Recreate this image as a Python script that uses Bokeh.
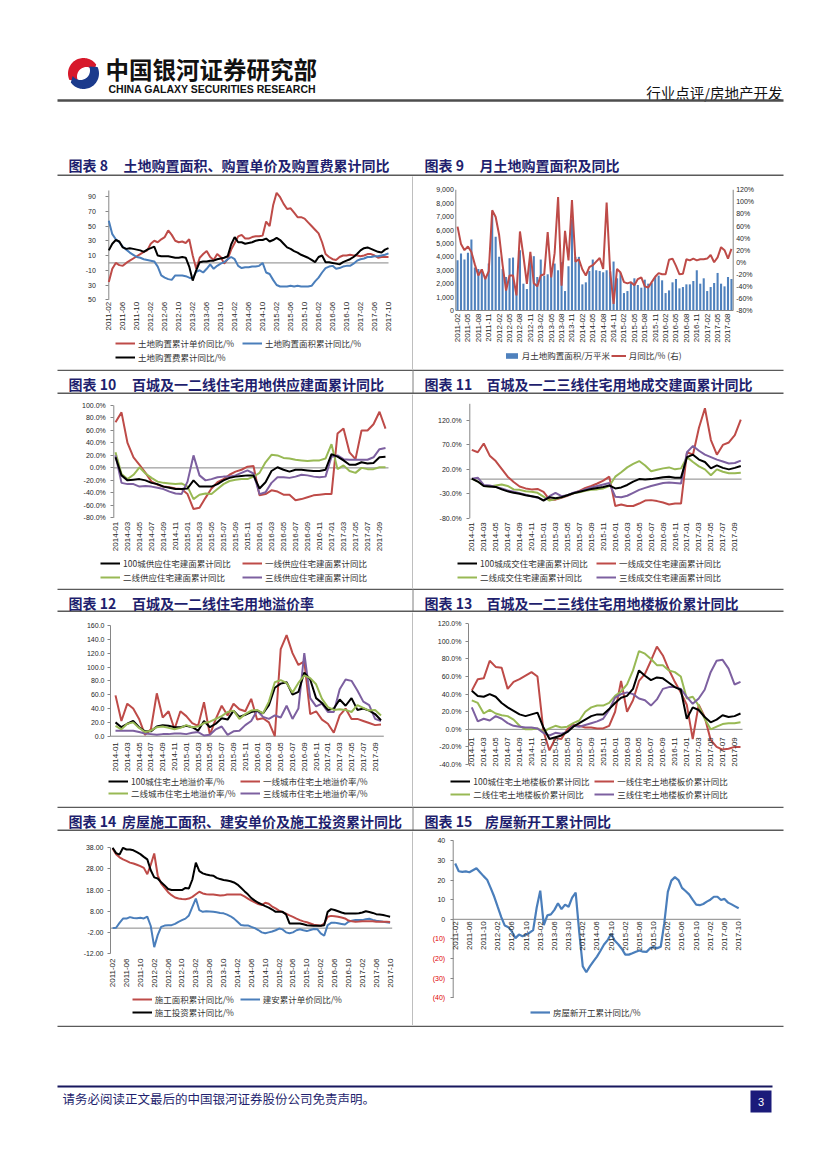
import math
from bokeh.plotting import figure
from bokeh.models import Range1d, LinearAxis, FixedTicker, Legend, LegendItem
from bokeh.layouts import column, row
from bokeh.embed import file_html
from bokeh.resources import INLINE
from bokeh.core.properties import value

# ---------------- tick labels ----------------
ticks_2011_4m = ["2011-02", "2011-06", "2011-10", "2012-02", "2012-06", "2012-10", "2013-02",
                 "2013-06", "2013-10", "2014-02", "2014-06", "2014-10", "2015-02", "2015-06",
                 "2015-10", "2016-02", "2016-06", "2016-10", "2017-02", "2017-06", "2017-10"]
ticks_2011_3m = ["2011-02", "2011-05", "2011-08", "2011-11", "2012-02", "2012-05", "2012-08",
                 "2012-11", "2013-02", "2013-05", "2013-08", "2013-11", "2014-02", "2014-05",
                 "2014-08", "2014-11", "2015-02", "2015-05", "2015-08", "2015-11", "2016-02",
                 "2016-05", "2016-08", "2016-11", "2017-02", "2017-05", "2017-08"]
ticks_2014_2m = ["2014-01", "2014-03", "2014-05", "2014-07", "2014-09", "2014-11", "2015-01",
                 "2015-03", "2015-05", "2015-07", "2015-09", "2015-11", "2016-01", "2016-03",
                 "2016-05", "2016-07", "2016-09", "2016-11", "2017-01", "2017-03", "2017-05",
                 "2017-07", "2017-09"]

# ---------------- chart 8 ----------------
land_unit_price_yoy = [-26, -8, 0, -3, -4, 0, 3, 6, 9, 12, 15, 17, 26, 30, 28, 32, 35, 44, 38, 30,
                       28, 29, 27, 32, 10, -8, 7, 12, 16, 8, 4, 12, 8, -1, 5, 18, 27, 36, 38, 33,
                       33, 35, 36, 36, 37, 56, 50, 78, 95, 89, 80, 73, 74, 68, 62, 62, 60, 55, 50, 45,
                       40, 28, 12, 8, 5, 4, 8, 10, 10, 11, 10, 10, 9, 10, 12, 12, 10, 7, 8, 8, 8]
land_area_yoy = [57, 39, 32, 28, 22, 18, 14, 11, 8, 7, 5, 4, 3, 2, -5, -17, -20, -22, -23, -17,
                 -17, -17, -18, -20, -21, -12, -10, -13, -8, -2, -8, -4, -1, 1, 5, 8, 5, -4, -7, -6,
                 -6, -5, -5, -4, 0, -13, -15, -23, -30, -32, -32, -32, -31, -32, -31, -32, -32, -32, -31, -25,
                 -20, -13, -7, -5, -4, -8, -7, -5, -4, -4, -1, 3, 5, 6, 8, 8, 9, 9, 10, 11, 13]
land_cost_yoy = [17, 26, 31, 29, 21, 19, 20, 19, 18, 17, 15, 18, 20, 22, 10, 9, 9, 9, 8, 7,
                 7, 8, 7, -5, -24, -10, 1, 2, 2, 3, 3, 5, 6, 7, 9, 25, 35, 28, 28, 26,
                 27, 28, 30, 31, 31, 33, 29, 31, 34, 31, 26, 21, 19, 16, 14, 11, 9, 7, 4, 1,
                 8, 10, 1, 1, 0, -1, -2, 1, 3, 5, 8, 12, 17, 20, 21, 19, 17, 15, 14, 18, 20]

# ---------------- chart 9 ----------------
land_area_month = [3750, 4250, 3800, 4300, 5300, 3200, 3100, 3100, 2500, 3500,
                   7300, 5500, 4000, 3100, 2500, 3900, 3950, 1800, 4500, 2000,
                   1600, 4100, 4050, 2500, 3800, 2600, 2700, 3100, 3500, 3000,
                   3600, 1450, 3300, 6800, 4000, 4000, 1950, 2100, 2950, 3800,
                   3000, 2950, 2850, 3000, 2900, 3650, 2400, 2800, 1300, 1450,
                   2100, 2400, 1900, 1700, 2300, 2000, 2050, 2500, 2600, 2250,
                   1300, 1500, 2100, 2350, 1650, 1750, 1950, 1950, 2200, 3000,
                   2000, 2400, 1450, 1750, 2050, 2800, 2000, 1800, 2500, 2350]
land_area_month_yoy = [59, 30, 20, 26, 17, -4, -22, -12, -28, -15,
                       86, 75, 45, -5, -47, -22, -22, -55, 51, 10,
                       -36, 17, -35, -40, -22, -20, 50, -25, 15, 108,
                       -39, 52, 3, 103, 1, 5, -12, -22, -8, -5,
                       1, 7, -11, 99, -14, -69, -11, -17, -33, -35,
                       -33, -38, -28, -25, -40, -42, -33, -24, -18, -20,
                       -20, 4, 6, -6, -20, -19, 5, 3, 6, 3,
                       5, 5, 6, 12, 0, 8, 25, 20, 6, 22]

# ---------------- chart 10 ----------------
supply_100 = [17, -12, -20, -19, -18, -20, -24, -26, -30, -32, -34, -34, -33, -20, -30, -30, -30, -26,
              -20, -16, -14, -13, -12, -12, -33, -23, -5, 1, -3, -6, -3, -3, -4, -5, -5, -3, 22, 18,
              12, 5, 5, 9, 7, 8, 17, 18]
supply_t1 = [73, 89, 40, 17, 5, -8, -22, -27, -30, -31, -33, -34, -42, -66, -64, -48, -33, -23,
             -18, -11, -6, -3, 2, 3, -44, -42, -36, -38, -43, -43, -52, -50, -47, -44, -43, -42, -42, 55,
             63, 25, 14, 60, 60, 70, 90, 63]
supply_t2 = [25, -10, -18, -11, 1, -9, -16, -22, -24, -25, -26, -25, -30, -50, -43, -41, -42, -34,
             -26, -21, -19, -18, -18, -14, -8, 9, 21, 20, 16, 15, 13, 12, 11, 12, 12, 15, 38, -2,
             4, -5, -8, 0, -2, -2, 1, 1]
supply_t3 = [20, -24, -26, -26, -30, -29, -30, -32, -34, -38, -41, -42, -22, 20, -12, -20, -18, -15,
             -14, -14, -12, -8, -4, -9, -42, -39, -24, -15, -15, -16, -14, -11, -12, -14, -15, -14, 18, 20,
             14, 13, 13, 13, 13, 17, 30, 32]

# ---------------- chart 11 ----------------
deal_100 = [1, -5, -14, -15, -16, -21, -25, -28, -30, -33, -35, -37, -44, -37, -39, -37, -33, -29,
            -26, -23, -20, -18, -16, -13, -19, -17, -12, -5, 0, -1, 0, 2, 4, 5, 3, 3, 45, 50,
            40, 35, 22, 28, 23, 20, 23, 27]
deal_t1 = [60, 55, 73, 48, 37, 21, 5, -6, -15, -19, -21, -20, -26, -42, -42, -38, -34, -29,
           -24, -18, -14, -9, -3, 5, -55, -52, -55, -55, -50, -44, -43, -45, -48, -52, -50, -50, 55, 50,
           105, 145, 80, 50, 70, 75, 90, 122]
deal_t2 = [1, -5, -14, -15, -13, -11, -14, -21, -22, -25, -26, -28, -36, -44, -41, -37, -33, -29,
           -27, -24, -22, -21, -19, -14, 5, 14, 24, 31, 37, 28, 16, 19, 22, 24, 20, 22, 45, 35,
           26, 20, 8, 20, 15, 12, 12, 13]
deal_t3 = [1, 3, -12, -13, -16, -19, -23, -26, -29, -32, -35, -38, -43, -35, -28, -35, -33, -28,
           -25, -21, -17, -14, -11, -8, -36, -37, -34, -28, -22, -18, -14, -11, -8, -7, -8, -9, 55, 68,
           58, 50, 45, 40, 36, 32, 33, 38]

# ---------------- chart 12 ----------------
premium_100 = [20, 13, 18, 22, 13, 7, 7, 14, 16, 15, 13, 13, 15, 13, 8, 22, 13, 18, 26, 24,
               37, 28, 31, 35, 37, 33, 45, 70, 76, 78, 60, 64, 92, 82, 55, 48, 38, 40, 53, 44,
               55, 38, 40, 37, 32, 23]
premium_t1 = [59, 22, 47, 40, 25, 2, 10, 62, 27, 36, 10, 36, 29, 19, 15, 49, 2, 25, 44, 30,
              47, 39, 36, 54, 24, 26, 20, 0, 126, 146, 120, 103, 108, 32, 36, 24, 18, 5, 30, 40,
              25, 25, 22, 19, 16, 17]
premium_t2 = [15, 10, 18, 20, 12, 6, 8, 13, 14, 12, 10, 12, 16, 13, 14, 19, 21, 25, 29, 35,
              37, 25, 32, 37, 38, 33, 50, 78, 81, 77, 63, 77, 88, 84, 75, 54, 42, 38, 39, 38,
              35, 45, 41, 37, 38, 30]
premium_t3 = [8, 8, 8, 8, 6, 4, 3, 2, 3, 3, 4, 4, 3, 5, 6, 1, 2, 10, 14, 2,
              7, 8, 16, 22, 37, 28, 25, 30, 27, 44, 25, 40, 120, 55, 43, 47, 35, 35, 68, 82,
              80, 66, 50, 45, 25, 22]

# ---------------- chart 13 ----------------
floor_100 = [44, 38, 37, 40, 37, 30, 25, 21, 17, 15, 17, 19, 2, -11, -9, -7, -3, 3, 7, 11,
             15, 17, 17, 23, 30, 36, 38, 46, 67, 61, 56, 59, 58, 53, 48, 45, 12, 25, 22, 14,
             8, 11, 16, 14, 15, 18]
floor_t1 = [44, 57, 58, 78, 71, 70, 46, 54, 57, 61, 65, 60, -2, -24, -10, -11, 0, 5, 4, 2,
            2, 1, 1, 4, 20, 55, 20, 33, 55, 63, 78, 94, 84, 68, 54, 42, 28, -11, 28, 14,
            -12, -20, -23, -22, -20, -20]
floor_t2 = [33, 30, 18, 22, 18, 16, 15, 11, 4, 0, 0, 1, -3, 1, 4, 2, 3, 7, 10, 20,
            25, 27, 27, 30, 38, 43, 51, 67, 89, 86, 80, 73, 73, 67, 65, 60, 35, 37, 27, 12,
            0, 3, 6, 7, 7, 8]
floor_t3 = [25, 9, 12, 10, 15, 12, 7, 4, 3, 2, 2, 1, -4, -7, -4, -5, -3, 4, 3, 5,
            7, 9, 12, 22, 36, 40, 42, 40, 35, 33, 27, 34, 46, 48, 48, 46, 37, 29, 35, 45,
            65, 78, 79, 69, 51, 54]

# ---------------- chart 14 ----------------
constr_area_yoy = [37.7, 35, 33.5, 32.5, 31.8, 31, 30.6, 30, 29.3, 28.5,
                   25.5, 30, 35.3, 25, 21, 19, 17, 15.6, 14.5, 14,
                   13.8, 13.7, 14, 14.8, 16, 17.2, 16.4, 16, 15.9, 15.9,
                   15.7, 15.4, 15.5, 15.9, 15.9, 15.9, 15.9, 15.9, 15, 14,
                   13, 12.2, 11.4, 10.9, 12, 11.5, 10.2, 9.3, 8.3, 7.6,
                   6.8, 6, 5.3, 4.5, 3.8, 3.2, 2.8, 2.2, 1.6, 1.4,
                   1.1, 2.2, 5.4, 5.8, 5.6, 5.4, 5, 4.6, 3.6, 3.2,
                   3, 3.1, 3.3, 3.3, 3.3, 3.2, 3, 3, 3, 3, 2.9]
build_cost_yoy = [0, 0.2, 2.5, 4.5, 4.5, 5.2, 4.8, 4.7, 4.9, 4.6,
                  5.4, 1, -9, -3.3, 0.6, 1.2, 1.4, 1.4, 2, 3,
                  3.8, 4.5, 6, 10, 14, 8.5, 7.7, 8, 7.9, 7.7,
                  7.5, 7.2, 7, 6.4, 5.6, 4.5, 3, 1.5, 1.2, 1.3,
                  0.6, 0, -0.9, -2, -2.4, -2, -1.6, -1, -0.2, -0.6,
                  -2, -2.4, -2, -1, -0.5, -1, -1.4, -0.9, -0.4, -0.5,
                  -2.5, -3.6, 1.4, 2.5, 2.6, 2.3, 2, 1.7, 3, 3.5,
                  3.8, 3.8, 3.8, 4.2, 4.4, 3.9, 3.5, 3.3, 3, 2.8, 2.5]
constr_invest_yoy = [38, 35.5, 34.8, 38, 37.2, 37.2, 36.8, 35.9, 35, 33.7,
                     32.5, 27.4, 24, 23.5, 21.7, 20.2, 18.5, 18, 18, 18,
                     18, 19, 18.8, 23, 31, 27, 25.9, 25.4, 25, 24.8,
                     23.8, 23.2, 22.8, 22.5, 22.2, 21.6, 20.6, 19.1, 17.5, 16,
                     14.2, 13, 12, 11.2, 10.4, 9.7, 8.8, 7.7, 7.7, 7.7,
                     6.5, 2.2, 2.2, 2.2, 2.2, 1.8, 1.4, 1.3, 1.1, 1.1,
                     1.1, 1.4, 7.7, 9, 8.6, 8, 7.4, 6.9, 6.9, 6.9,
                     6.9, 7, 7.4, 8, 7.6, 7.2, 6.6, 6.4, 6.2, 5.8, 5.4]

# ---------------- chart 15 ----------------
new_start_yoy = [28.4, 24.5, 24.2, 24.4, 24, 25, 26, 24, 22, 20.2,
                 16, 11.6, 6.3, 1.1, -3.2, -4, -6.3, -9.6, -7.8, -8.6,
                 -7.7, -6.8, -5.5, 6, 14.6, -3, 2, 2.5, 4.8, 8.2,
                 5.2, 7.5, 6.4, 11, 13.6, -6.5, -24, -27, -24, -21.4,
                 -19, -16, -12.8, -10.7, -7.4, -10.8, -12.7, -15, -18, -18,
                 -17.3, -16.5, -15.9, -16.5, -16.6, -14.7, -14.2, -14.7, -14, -2,
                 14, 19.7, 21.5, 20, 16, 14.4, 12.7, 10, 7.5, 7.2,
                 7.8, 9, 10, 11.5, 11.5, 9.8, 10.4, 8.5, 7.6, 6.6, 5.6]

# ---------------- style ----------------
RED = "#BE4B48"
BLUE = "#4A7EBB"
GREEN = "#98B954"
PURPLE = "#7D60A0"
BLACK = "#000000"
BAR = "#4F81BD"
AXIS = "#868686"
NAVY = "#1F1F6E"
RULE = "#5A5A5A"
TICK_FONT = "Liberation Sans"
CJK = "Noto Sans CJK SC"
PAGE_W = 819


def canvas(x0, y0, w, h):
    p = figure(width=w, height=h, x_range=Range1d(x0, x0 + w), y_range=Range1d(y0 + h, y0),
               output_backend="svg", toolbar_location=None, tools="", min_border=0,
               x_axis_location=None, y_axis_location=None, outline_line_color=None)
    p.grid.visible = False
    return p


def vline(h):
    p = figure(width=1, height=h, x_range=Range1d(0, 1), y_range=Range1d(0, 1),
               output_backend="svg", toolbar_location=None, tools="", min_border=0,
               x_axis_location=None, y_axis_location=None, outline_line_color=None,
               background_fill_color="#7F7F7F", border_fill_color="#7F7F7F")
    p.grid.visible = False
    return p


class Chart:
    """A figure whose frame is the whole panel; ranges are set from two pixel anchors per axis."""

    def __init__(self, box, xa, ya):
        x0, y0, x1, y1 = box
        self.box = box
        ia, pa, ib, pb = xa
        self.kx = (ib - ia) / (pb - pa)
        self.ia, self.pa = ia, pa
        xr = (ia - (pa - x0) * self.kx, ia + (x1 - pa) * self.kx)
        yr = self.yr_from(ya)
        self.ya = ya
        self.p = figure(width=x1 - x0, height=y1 - y0, x_range=Range1d(*xr), y_range=Range1d(*yr),
                        output_backend="svg", toolbar_location=None, tools="", min_border=0,
                        outline_line_color=None)
        self.p.xgrid.visible = False
        self.p.ygrid.visible = False

    def yr_from(self, ya):
        x0, y0, x1, y1 = self.box
        vh, ph, vl, pl = ya
        k = (vh - vl) / (pl - ph)
        return (vl - (y1 - pl) * k, vh + (ph - y0) * k)

    def X(self, px):
        return self.ia + (px - self.pa) * self.kx

    def Y(self, py, ya=None):
        vh, ph, vl, pl = ya or self.ya
        k = (vh - vl) / (pl - ph)
        return vl - (py - pl) * k


def style_y(ax, ticks, labels, standoff, loc, tick_out=3, color="#262626", tick=True):
    ax.ticker = FixedTicker(ticks=ticks)
    ax.major_label_overrides = dict(zip(ticks, labels))
    ax.fixed_location = loc
    ax.axis_line_color = None
    ax.major_tick_line_color = AXIS if tick else None
    ax.major_tick_out = tick_out
    ax.major_tick_in = 0
    ax.minor_tick_line_color = None
    ax.major_label_standoff = standoff
    ax.major_label_text_font = TICK_FONT
    ax.major_label_text_font_size = "7px"
    ax.major_label_text_color = color


def style_x(ax, ticks, labels, standoff, loc):
    ax.ticker = FixedTicker(ticks=ticks)
    ax.major_label_overrides = dict(zip(ticks, labels))
    ax.fixed_location = loc
    ax.major_label_orientation = math.pi / 2
    ax.axis_line_color = None
    ax.major_tick_line_color = None
    ax.major_tick_out = 0
    ax.major_tick_in = 0
    ax.minor_tick_line_color = None
    ax.major_label_standoff = standoff
    ax.major_label_text_font = TICK_FONT
    ax.major_label_text_font_size = "8px"
    ax.major_label_text_color = "#262626"


def add_lines(p, series, colors, width=2.0):
    rs = []
    for ys, c in zip(series, colors):
        rs.append(p.line(list(range(len(ys))), ys, line_color=c, line_width=width))
    return rs


def add_legend(p, renderers, labels, loc, label_width, item_h=12, spacing=0, gw=20, gh=None, ncols=2):
    items = [LegendItem(label=value(lab), renderers=[r]) for lab, r in zip(labels, renderers)]
    lg = Legend(items=items, location=loc, orientation="horizontal", ncols=ncols,
                label_width=int(round(label_width)), glyph_width=gw,
                glyph_height=gh if gh is not None else item_h, label_height=item_h,
                label_standoff=3, spacing=spacing, padding=0, margin=0,
                border_line_color=None, background_fill_alpha=0,
                label_text_font=CJK, label_text_font_size="8.5px", label_text_color="#333333")
    p.add_layout(lg)


def hline(p, y, x0, x1, **kw):
    p.segment(x0=[x0], y0=[y], x1=[x1], y1=[y], line_color=AXIS, line_width=1, **kw)


def vseg(p, x, y0, y1, **kw):
    p.segment(x0=[x], y0=[y0], x1=[x], y1=[y1], line_color=AXIS, line_width=1, **kw)


def pct(v, d=1):
    return f"{v:.{d}f}%"


def legend_loc(c, x_px, top_px, h):
    x0, y0, x1, y1 = c.box
    return (x_px - x0, y1 - top_px - h)


# ---------------- header ----------------
header = canvas(0, 0, PAGE_W, 150)


def arc(cx, cy, r, t0, t1, n=40):
    pts = []
    for k in range(n + 1):
        t = math.radians(t0 + (t1 - t0) * k / n)
        pts.append((cx + r * math.cos(t), cy - r * math.sin(t)))
    return pts


red_logo = arc(83, 73, 15.5, 35, 205) + arc(86, 76, 9.5, 205, 35)
blue_logo = arc(83, 73, 15.5, 215, 385) + arc(80, 70, 9.5, 385, 215)
header.patch([q[0] for q in red_logo], [q[1] for q in red_logo], fill_color="#D7192B", line_color=None)
header.patch([q[0] for q in blue_logo], [q[1] for q in blue_logo], fill_color="#1B3A8C", line_color=None)
header.text(x=[105], y=[68.5], text=["中国银河证券研究部"], text_font=value(CJK), text_font_style="bold",
            text_font_size=value("23.5px"), text_baseline="middle", text_color="#111111")
header.text(x=[108], y=[88], text=["CHINA GALAXY SECURITIES RESEARCH"], text_font=value(TICK_FONT),
            text_font_style="bold", text_font_size=value("10.5px"), text_baseline="middle",
            text_color="#111111")
header.text(x=[782], y=[92], text=["行业点评/房地产开发"], text_font=value(CJK),
            text_font_size=value("14.5px"), text_baseline="middle", text_align="right",
            text_color="#111111")
header.segment(x0=[57], y0=[100], x1=[783], y1=[100], line_color="#4D4D4D", line_width=2.5)


# ---------------- title strips ----------------
def strip(y0, h, cy, titles, first=False):
    p = canvas(0, y0, PAGE_W, h)
    if not first:
        p.segment(x0=[57], y0=[y0 + 0.75], x1=[783], y1=[y0 + 0.75], line_color=RULE, line_width=1.5)
        p.segment(x0=[412.5], y0=[y0], x1=[412.5], y1=[y0 + h], line_color="#7F7F7F", line_width=1)
    p.segment(x0=[57], y0=[y0 + h - 1], x1=[783], y1=[y0 + h - 1], line_color=RULE, line_width=2)
    for (num, xn, txt, xt) in titles:
        p.text(x=[xn, xt], y=[cy, cy], text=[num, txt], text_font=value(CJK), text_font_style="bold",
               text_font_size=value("14px"), text_baseline="middle", text_color=NAVY)
    return p


strip1 = strip(150, 26, 164, [("图表 8", 68, "土地购置面积、购置单价及购置费累计同比", 123),
                               ("图表 9", 424, "月土地购置面积及同比", 479)], first=True)
strip2 = strip(369, 25, 383, [("图表 10", 68, "百城及一二线住宅用地供应建面累计同比", 131.5),
                               ("图表 11", 424, "百城及一二三线住宅用地成交建面累计同比", 486)])
strip3 = strip(588, 24, 602.5, [("图表 12", 68, "百城及一二线住宅用地溢价率", 131.5),
                                 ("图表 13", 424, "百城及一二三线住宅用地楼板价累计同比", 486)])
strip4 = strip(806, 25, 820.5, [("图表 14", 68, "房屋施工面积、建安单价及施工投资累计同比", 121.5),
                                 ("图表 15", 424, "房屋新开工累计同比", 484.5)])

# ---------------- chart 8 ----------------
k8 = Chart((0, 176, 412, 369), (0, 108.3, 80, 388), (90, 196, -50, 299.3))
c8 = k8.p
hline(c8, 0, 0, 80)
vseg(c8, 0, -50, k8.Y(190))
r8 = add_lines(c8, [land_unit_price_yoy, land_area_yoy, land_cost_yoy], [RED, BLUE, BLACK])
style_y(c8.yaxis[0], [-50, -30, -10, 10, 30, 50, 70, 90], ["50", "30", "-10", "10", "30", "50", "70", "90"], 10, 0)
style_x(c8.xaxis[0], [4 * k for k in range(len(ticks_2011_4m))], ticks_2011_4m, 2, -50)
add_legend(c8, r8, ["土地购置累计单价同比/%", "土地购置面积累计同比/%", "土地购置费累计同比/%"],
           legend_loc(k8, 115, 337, 26), 102, item_h=12, spacing=2)

# ---------------- chart 9 ----------------
ya9 = (9000, 189.3, 0, 310)
ya9p = (120, 189.3, -80, 310)
k9 = Chart((413, 176, 783, 369), (-0.5, 455.3, 79.5, 732.7), ya9)
c9 = k9.p
c9.extra_y_ranges = {"pct": Range1d(*k9.yr_from(ya9p))}
b9 = c9.vbar(x=list(range(len(land_area_month))), top=land_area_month, width=0.6,
             fill_color=BAR, line_color=None)
l9 = c9.line(list(range(len(land_area_month_yoy))), land_area_month_yoy, y_range_name="pct",
             line_color=RED, line_width=2)
vseg(c9, -0.5, 0, 9000)
vseg(c9, 79.5, -80, 120, y_range_name="pct")
hline(c9, 0, -0.5, 79.5)
style_y(c9.yaxis[0], [k * 1000 for k in range(10)], [f"{k * 1000:,}" for k in range(10)], 2, -0.5, tick_out=0)
ax9r = LinearAxis(y_range_name="pct")
style_y(ax9r, list(range(-80, 121, 20)), [f"{v}%" for v in range(-80, 121, 20)], 3, 79.5, tick_out=0)
c9.add_layout(ax9r, "right")
style_x(c9.xaxis[0], [3 * k for k in range(len(ticks_2011_3m))], ticks_2011_3m, 3, 0)
add_legend(c9, [b9, l9], ["月土地购置面积/万平米", "月同比/% (右)"], legend_loc(k9, 503.7, 349, 12), 89,
           item_h=12, spacing=0, gw=15, gh=7)

# ---------------- chart 10 ----------------
k10 = Chart((0, 394, 412, 588), (0, 115, 45, 385), (100, 405, -80, 517.3))
c10 = k10.p
ax10, end10 = k10.X(113.3), k10.X(388)
hline(c10, 0, ax10, end10)
vseg(c10, ax10, -80, 100)
r10 = add_lines(c10, [supply_t1, supply_t2, supply_t3, supply_100], [RED, GREEN, PURPLE, BLACK])
style_y(c10.yaxis[0], list(range(-80, 101, 20)), [pct(v) for v in range(-80, 101, 20)], 5, ax10)
style_x(c10.xaxis[0], [2 * k for k in range(len(ticks_2014_2m))], ticks_2014_2m, 4, -80)
add_legend(c10, [r10[3], r10[0], r10[1], r10[2]],
           ["100城供应住宅建面累计同比", "一线供应住宅建面累计同比", "二线供应住宅建面累计同比", "三线供应住宅建面累计同比"],
           legend_loc(k10, 100, 556.7, 26), 117, item_h=12, spacing=2)

# ---------------- chart 11 ----------------
k11 = Chart((413, 394, 783, 588), (0, 471.3, 45, 740.3), (120, 420, -80, 517.7))
c11 = k11.p
ax11, end11 = k11.X(469.3), k11.X(741)
hline(c11, 0, ax11, end11)
vseg(c11, ax11, -80, k11.Y(403.3))
r11 = add_lines(c11, [deal_t1, deal_t2, deal_t3, deal_100], [RED, GREEN, PURPLE, BLACK])
style_y(c11.yaxis[0], [-80, -30, 20, 70, 120], [pct(v) for v in [-80, -30, 20, 70, 120]], 5, ax11)
style_x(c11.xaxis[0], [2 * k for k in range(len(ticks_2014_2m))], ticks_2014_2m, 4, -80)
add_legend(c11, [r11[3], r11[0], r11[1], r11[2]],
           ["100城成交住宅建面累计同比", "一线成交住宅建面累计同比", "二线成交住宅建面累计同比", "三线成交住宅建面累计同比"],
           legend_loc(k11, 457, 556.7, 26), 114, item_h=12, spacing=2)

# ---------------- chart 12 ----------------
k12 = Chart((0, 612, 412, 806), (0, 115, 45, 380.5), (160, 625, 0, 735.7))
c12 = k12.p
ax12, end12 = k12.X(110), k12.X(383.3)
vseg(c12, ax12, 0, 160)
hline(c12, 0, ax12, end12)
r12 = add_lines(c12, [premium_t1, premium_t3, premium_100, premium_t2], [RED, PURPLE, BLACK, GREEN])
style_y(c12.yaxis[0], list(range(0, 161, 20)), [f"{v:.1f}" for v in range(0, 161, 20)], 3, ax12)
style_x(c12.xaxis[0], [2 * k for k in range(len(ticks_2014_2m))], ticks_2014_2m, 6, 0)
add_legend(c12, [r12[2], r12[0], r12[3], r12[1]],
           ["100城住宅土地溢价率/%", "一线城市住宅土地溢价率/%", "二线城市住宅土地溢价率/%", "三线城市住宅土地溢价率/%"],
           legend_loc(k12, 108, 774.5, 24), 109, item_h=12, spacing=0)

# ---------------- chart 13 ----------------
k13 = Chart((413, 612, 783, 806), (0, 471.3, 45, 740), (120, 623.3, -40, 764))
c13 = k13.p
ax13, end13 = k13.X(468), k13.X(742)
vseg(c13, ax13, -40, 120)
hline(c13, 0, ax13, end13)
r13 = add_lines(c13, [floor_t1, floor_t2, floor_t3, floor_100], [RED, GREEN, PURPLE, BLACK])
style_y(c13.yaxis[0], list(range(-40, 121, 20)), [pct(v) for v in range(-40, 121, 20)], 4, ax13)
style_x(c13.xaxis[0], [2 * k for k in range(len(ticks_2014_2m))], ticks_2014_2m, 8, 0)
add_legend(c13, [r13[3], r13[0], r13[1], r13[2]],
           ["100城住宅土地楼板价累计同比", "一线住宅土地楼板价累计同比", "二线住宅土地楼板价累计同比", "三线住宅土地楼板价累计同比"],
           legend_loc(k13, 450.3, 774.5, 25), 120, item_h=12, spacing=1)

# ---------------- chart 14 ----------------
k14 = Chart((0, 831, 412, 1025), (0, 112.1, 80, 389.6), (38, 847.3, -12, 953))
c14 = k14.p
ax14, end14 = k14.X(110), k14.X(391.7)
vseg(c14, ax14, -12, 38)
hline(c14, 0, ax14, end14)
r14 = add_lines(c14, [build_cost_yoy, constr_area_yoy, constr_invest_yoy], [BLUE, RED, BLACK])
style_y(c14.yaxis[0], [-12, -2, 8, 18, 28, 38], [f"{v:.2f}" for v in [-12, -2, 8, 18, 28, 38]], 4, ax14)
style_x(c14.xaxis[0], [4 * k for k in range(len(ticks_2011_4m))], ticks_2011_4m, 5, -12)
add_legend(c14, [r14[1], r14[0], r14[2]], ["施工面积累计同比/%", "建安累计单价同比/%", "施工投资累计同比/%"],
           legend_loc(k14, 131.7, 992.5, 25), 84, item_h=12, spacing=1)

# ---------------- chart 15 ----------------
k15 = Chart((413, 831, 783, 1025), (0, 454.7, 80, 738.2), (40, 840.3, -40, 997.3))
c15 = k15.p
ax15, end15 = k15.X(452.7), k15.X(740.3)
vseg(c15, ax15, -40, 40)
hline(c15, 0, ax15, end15)
r15 = add_lines(c15, [new_start_yoy], [BLUE], width=2.2)
style_y(c15.yaxis[0], [0, 10, 20, 30, 40], ["0", "10", "20", "30", "40"], 5, ax15)
neg15 = LinearAxis()
style_y(neg15, [-40, -30, -20, -10], ["(40)", "(30)", "(20)", "(10)"], 5, ax15, color="#E00000")
c15.add_layout(neg15, "left")
style_x(c15.xaxis[0], [4 * k for k in range(len(ticks_2011_4m))], ticks_2011_4m, 2, 0)
add_legend(c15, r15, ["房屋新开工累计同比/%"], legend_loc(k15, 530, 1006, 12), 100, item_h=12,
           spacing=0, ncols=1)

# ---------------- footer ----------------
footer = canvas(0, 1025, PAGE_W, 140)
footer.segment(x0=[57], y0=[1025.75], x1=[783], y1=[1025.75], line_color=RULE, line_width=1.5)
footer.segment(x0=[57], y0=[1086], x1=[772], y1=[1086], line_color="#17175E", line_width=2)
footer.text(x=[62], y=[1097.5], text=["请务必阅读正文最后的中国银河证券股份公司免责声明。"],
            text_font=value(CJK), text_font_size=value("12.5px"), text_baseline="middle",
            text_color=NAVY)
footer.quad(left=[750], right=[771], top=[1090], bottom=[1112], fill_color="#1B1B7A", line_color=None)
footer.text(x=[760.5], y=[1101.5], text=["3"], text_font=value(TICK_FONT), text_font_size=value("11px"),
            text_baseline="middle", text_align="center", text_color="white")

page = column(
    header,
    strip1, row(c8, vline(193), c9),
    strip2, row(c10, vline(194), c11),
    strip3, row(c12, vline(194), c13),
    strip4, row(c14, vline(194), c15),
    footer,
)

open("out.html", "w").write(file_html(page, INLINE))
